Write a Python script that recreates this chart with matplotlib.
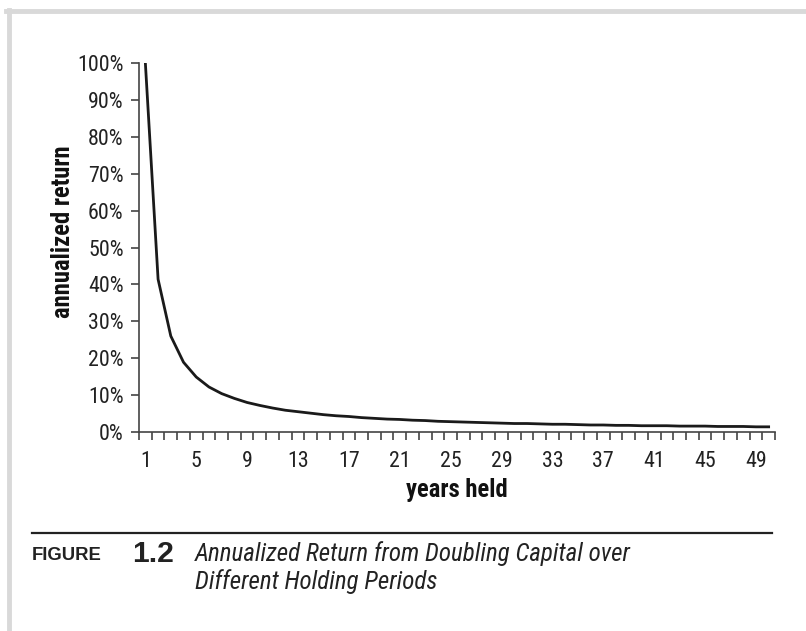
import matplotlib
matplotlib.use("Agg")
import matplotlib.pyplot as plt
from matplotlib.lines import Line2D
from matplotlib import font_manager as fm
import numpy as np

# data (annualized return, %)
years = list(range(1, 51))
returns = [100.0, 41.4, 26.0, 18.9, 14.9, 12.2, 10.4, 9.1, 8.0, 7.2,
           6.5, 5.9, 5.5, 5.1, 4.7, 4.4, 4.2, 3.9, 3.7, 3.5,
           3.4, 3.2, 3.1, 2.9, 2.8, 2.7, 2.6, 2.5, 2.4, 2.3,
           2.3, 2.2, 2.1, 2.1, 2.0, 1.9, 1.9, 1.8, 1.8, 1.7,
           1.7, 1.7, 1.6, 1.6, 1.6, 1.5, 1.5, 1.5, 1.4, 1.4]
y_ticks = [0, 10, 20, 30, 40, 50, 60, 70, 80, 90, 100]
y_tick_labels = [f"{v}%" for v in y_ticks]
x_label_ticks = list(range(1, 50, 4))

# pick a condensed font if one is installed
NARROW, STRETCH = "Roboto", "normal"
_cands = []
for f in fm.fontManager.ttflist:
    st = f.stretch
    is_cond = ("Narrow" in f.name or "Condensed" in f.name or
               st in ("condensed", "semi-condensed", "extra-condensed", "ultra-condensed") or
               (isinstance(st, (int, float)) and st < 500))
    if is_cond:
        _cands.append((f.name, st))
for pref in ["Liberation Sans Narrow", "Roboto Condensed", "DejaVu Sans", "Noto Sans", "Open Sans"]:
    hit = [c for c in _cands if c[0] == pref]
    if hit:
        NARROW, STRETCH = hit[0]
        break
else:
    if _cands:
        NARROW, STRETCH = _cands[0]

fig = plt.figure(figsize=(8.06, 6.31), dpi=100)
W, H = 806, 631
renderer = fig.canvas.get_renderer()


def fit(s, target_px, **kw):
    t = fig.text(0, 0, s, fontsize=10, **kw)
    w = t.get_window_extent(renderer).width
    t.remove()
    return 10 * target_px / w


NK = dict(fontfamily=NARROW, fontstretch=STRETCH)

# light gray frame (top and left)
fig.add_artist(Line2D([6 / W, 1.0], [1 - 11 / H, 1 - 11 / H], color="#d9d9d9", lw=3.5))
fig.add_artist(Line2D([8.5 / W, 8.5 / W], [0.0, 1 - 9.5 / H], color="#d9d9d9", lw=3.5))

left, right, top, bottom = 139 / W, 775 / W, 63 / H, 432 / H
ax = fig.add_axes([left, 1 - bottom, right - left, bottom - top])
ax.plot(years, returns, color="#1a1a1a", lw=2.0, solid_joinstyle="round")

ax.set_xlim(0.5, 50.5)
ax.set_ylim(0, 100)
for s in ["top", "right"]:
    ax.spines[s].set_visible(False)
for s in ["left", "bottom"]:
    ax.spines[s].set_color("#444444")
    ax.spines[s].set_linewidth(1.2)

tick_fs = fit("100%", 46, **NK)
ax.set_yticks(y_ticks)
ax.set_yticklabels(y_tick_labels, fontsize=tick_fs, color="#222222", **NK)
ax.tick_params(axis="y", direction="out", length=6, width=1.2, color="#444444", pad=5)

ax.set_xticks(x_label_ticks)
ax.set_xticklabels([str(v) for v in x_label_ticks], fontsize=tick_fs, color="#222222", **NK)
ax.set_xticks(np.arange(0.5, 51, 1), minor=True)
ax.tick_params(axis="x", which="major", length=0, pad=14)
ax.tick_params(axis="x", which="minor", direction="out", length=6, width=1.2, color="#444444")

lab_fs = fit("annualized return", 172, fontweight="bold", **NK)
ax.set_xlabel("years held", fontweight="bold", fontsize=lab_fs, color="#111111", **NK)
ax.set_ylabel("annualized return", fontweight="bold", fontsize=lab_fs, color="#111111", **NK)
ax.yaxis.set_label_coords((75 - 139) / (775 - 139), (432 - 232) / (432 - 63))
ax.xaxis.set_label_coords(0.5, (432 - 478) / (432 - 63))

# caption
fig.add_artist(Line2D([32 / W, 772 / W], [1 - 533 / H, 1 - 533 / H], color="#222222", lw=1.6))
fig.text(32 / W, 1 - 556 / H, "FIGURE", fontfamily="Liberation Sans", fontweight="bold",
         fontsize=fit("FIGURE", 70, fontfamily="Liberation Sans", fontweight="bold"),
         color="#222222", va="center", ha="left")
fig.text(132 / W, 1 - 554 / H, "1.2", fontfamily="Liberation Sans", fontweight="bold",
         fontsize=fit("1.2", 42, fontfamily="Liberation Sans", fontweight="bold"),
         color="#222222", va="center", ha="left")
cap_fs = min(fit("Annualized Return from Doubling Capital over", 525, fontstyle="italic", **NK), 18)
fig.text(195 / W, 1 - 554 / H, "Annualized Return from Doubling Capital over",
         fontstyle="italic", fontsize=cap_fs, color="#222222", va="center", ha="left", **NK)
fig.text(195 / W, 1 - 582 / H, "Different Holding Periods",
         fontstyle="italic", fontsize=cap_fs, color="#222222", va="center", ha="left", **NK)

fig.savefig("out.png", dpi=100)
